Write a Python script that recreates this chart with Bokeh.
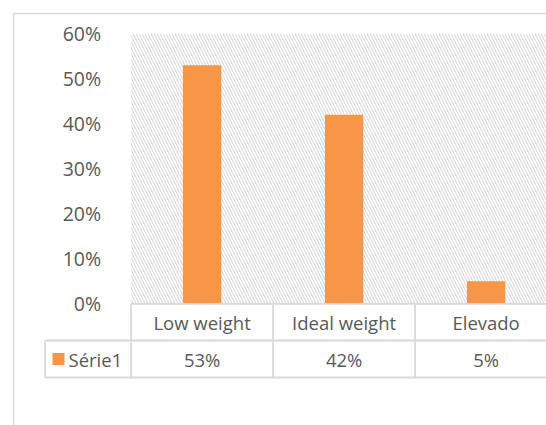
from bokeh.plotting import figure
from bokeh.models import Range1d, FixedTicker, NumeralTickFormatter
from bokeh.core.properties import value
from bokeh.embed import file_html
from bokeh.resources import INLINE

# --- data -------------------------------------------------------------
categories = ["Low weight", "Ideal weight", "Elevado"]
series_name = "Série1"
shares = [0.53, 0.42, 0.05]
y_ticks = [0.0, 0.1, 0.2, 0.3, 0.4, 0.5, 0.6]

# --- styling / layout -------------------------------------------------
W, H = 546, 425
BAR = "#F79646"
GRID = "#D9D9D9"
TEXT = "#595959"
FONT = "Open Sans"
FS = "18.5px"         # table text
FS_TICK = "19.5px"    # value axis labels

COL_PX = 142.0        # pixels per category column
Y_PX = 450.0          # pixels per unit on the value axis
LEFT_PX = 130.6       # left edge of plot area
ZERO_PX = 303.3       # baseline (0 %) from top


def xd(px):
    return (px - LEFT_PX) / COL_PX


def yd(px):
    return (ZERO_PX - px) / Y_PX


y_max = y_ticks[-1]
n = len(categories)
row1 = yd(340)        # bottom of category row
row2 = yd(377)        # bottom of value row
legend_left = xd(44.6)

p = figure(
    width=W, height=H,
    x_range=Range1d(xd(0), xd(W)),
    y_range=Range1d(yd(H), yd(0)),
    output_backend="svg", toolbar_location=None,
    min_border=0, outline_line_color=None,
    background_fill_color="white", border_fill_color="white",
)
p.xaxis.visible = False
p.grid.visible = False

ax = p.yaxis[0]
ax.fixed_location = 0
ax.ticker = FixedTicker(ticks=y_ticks)
ax.formatter = NumeralTickFormatter(format="0%")
ax.axis_line_color = None
ax.major_tick_line_color = None
ax.minor_tick_line_color = None
ax.major_label_standoff = 24
ax.major_label_text_font = FONT
ax.major_label_text_font_size = FS_TICK
ax.major_label_text_color = TEXT

# chart border (runs off the right and bottom edges)
p.quad(left=xd(13), right=xd(W + 40), top=yd(13), bottom=yd(H + 40),
       fill_color=None, line_color=GRID, line_width=1.5)

# hatched plot area
p.quad(left=0, right=n, bottom=0, top=y_max,
       fill_color="white", line_color=None,
       hatch_pattern="\\", hatch_color=GRID, hatch_scale=6, hatch_weight=1.1)

# bars
xs = [i + 0.5 for i in range(n)]
p.vbar(x=xs, top=shares, bottom=0, width=0.27, fill_color=BAR, line_color=None)

# data table grid
seg_x0, seg_y0, seg_x1, seg_y1 = [], [], [], []
for i in range(n + 1):
    seg_x0.append(i); seg_y0.append(0); seg_x1.append(i); seg_y1.append(row2)
seg_x0 += [0, legend_left, legend_left, legend_left]
seg_y0 += [0, row1, row2, row1]
seg_x1 += [n, n, n, legend_left]
seg_y1 += [0, row1, row2, row2]
p.segment(x0=seg_x0, y0=seg_y0, x1=seg_x1, y1=seg_y1, line_color=GRID, line_width=1.8)

# category row
p.text(x=xs, y=[row1 / 2] * n, text=categories,
       text_font=value(FONT), text_font_size=FS, text_color=TEXT,
       text_align="center", text_baseline="middle")

# value row
labels = [f"{round(v * 100)}%" for v in shares]
mid2 = (row1 + row2) / 2
p.text(x=xs, y=[mid2] * n, text=labels,
       text_font=value(FONT), text_font_size=FS, text_color=TEXT,
       text_align="center", text_baseline="middle")

# series key
p.scatter(x=[xd(58)], y=[mid2], marker="square", size=12,
          fill_color=BAR, line_color=None)
p.text(x=[xd(68)], y=[mid2], text=[series_name],
       text_font=value(FONT), text_font_size=FS, text_color=TEXT,
       text_align="left", text_baseline="middle")

open("out.html", "w").write(file_html(p, INLINE))
